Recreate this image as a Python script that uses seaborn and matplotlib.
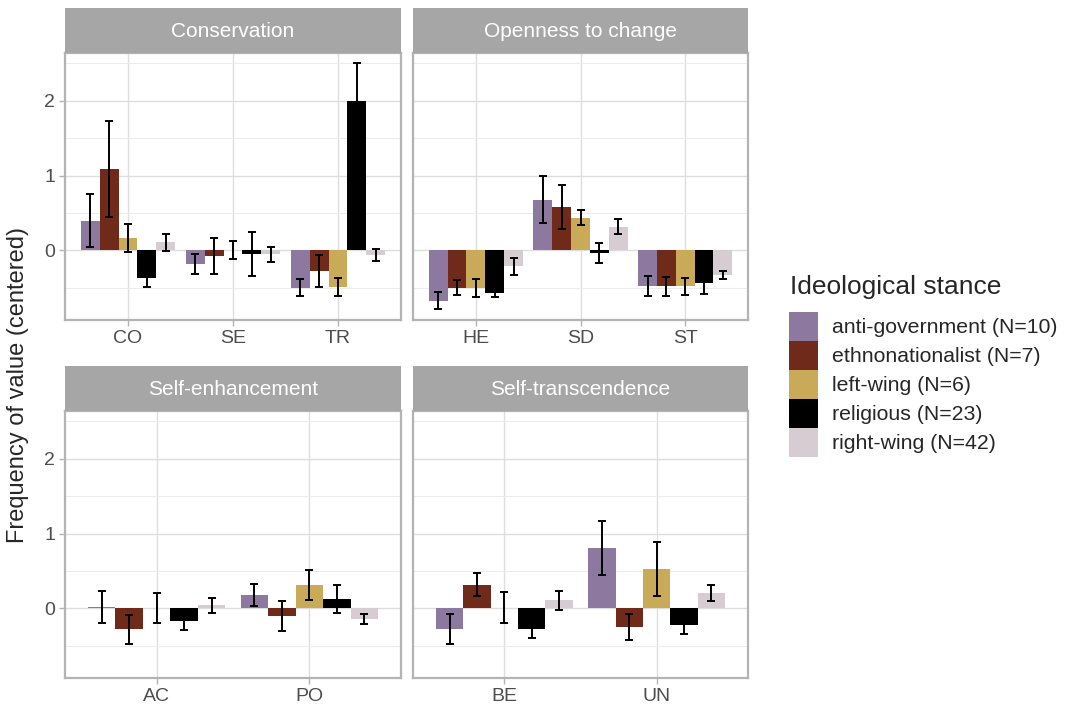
import numpy as np
import pandas as pd
import matplotlib
matplotlib.use("Agg")
import matplotlib.pyplot as plt
from matplotlib.patches import Patch
from matplotlib.ticker import MultipleLocator
import seaborn as sns

# facets and the value codes shown in each one
facets = ["Conservation", "Openness to change", "Self-enhancement", "Self-transcendence"]
facet_values = [["CO", "SE", "TR"], ["HE", "SD", "ST"], ["AC", "PO"], ["BE", "UN"]]
values = ["CO", "SE", "TR", "HE", "SD", "ST", "AC", "PO", "BE", "UN"]

stances = ["anti-government", "ethnonationalist", "left-wing", "religious", "right-wing"]
stance_labels = ["anti-government (N=10)", "ethnonationalist (N=7)", "left-wing (N=6)",
                 "religious (N=23)", "right-wing (N=42)"]
stance_colors = ["#8D799F", "#6F2A19", "#C8AA58", "#000000", "#D6CCD1"]

# centered frequency, order follows `values`
anti_mean = [0.40, -0.18, -0.50, -0.67, 0.68, -0.47, 0.02, 0.18, -0.27, 0.81]
ethno_mean = [1.09, -0.08, -0.28, -0.50, 0.58, -0.48, -0.28, -0.10, 0.32, -0.25]
left_mean = [0.17, 0.005, -0.49, -0.50, 0.44, -0.48, 0.01, 0.31, 0.01, 0.53]
relig_mean = [-0.37, -0.05, 2.00, -0.57, -0.035, -0.43, -0.165, 0.125, -0.28, -0.22]
right_mean = [0.11, -0.05, -0.06, -0.21, 0.32, -0.33, 0.04, -0.14, 0.11, 0.21]

# error bar half widths
anti_err = [0.35, 0.13, 0.115, 0.11, 0.31, 0.135, 0.21, 0.145, 0.20, 0.36]
ethno_err = [0.64, 0.24, 0.215, 0.10, 0.29, 0.125, 0.19, 0.20, 0.155, 0.17]
left_err = [0.19, 0.115, 0.12, 0.12, 0.10, 0.115, 0.20, 0.20, 0.205, 0.365]
relig_err = [0.12, 0.29, 0.50, 0.055, 0.135, 0.15, 0.12, 0.19, 0.12, 0.12]
right_err = [0.115, 0.10, 0.08, 0.115, 0.105, 0.055, 0.10, 0.063, 0.125, 0.11]

means = [anti_mean, ethno_mean, left_mean, relig_mean, right_mean]
errs = [anti_err, ethno_err, left_err, relig_err, right_err]

rows = []
for st, m_list, e_list in zip(stances, means, errs):
    for v, m, e in zip(values, m_list, e_list):
        fac = next(f for f, vs in zip(facets, facet_values) if v in vs)
        rows.append({"facet": fac, "value": v, "stance": st, "mean": m, "err": e})
df = pd.DataFrame(rows)

sns.set_style("white")
plt.rcParams["font.family"] = ["Liberation Sans", "DejaVu Sans"]

W, H = 1071, 710
fig = plt.figure(figsize=(W / 100, H / 100), dpi=100)

# pixel boxes: (left, width, panel top, panel bottom)
boxes = [(65, 336, 53, 320), (413, 335, 53, 320),
         (65, 336, 411, 678), (413, 335, 411, 678)]
strip_h = 45

for i, (fac, cats) in enumerate(zip(facets, facet_values)):
    x0, w, y0, y1 = boxes[i]
    ax = fig.add_axes([x0 / W, 1 - y1 / H, w / W, (y1 - y0) / H])
    sub = df[df["facet"] == fac]
    sns.barplot(data=sub, x="value", y="mean", hue="stance", order=cats,
                hue_order=stances, palette=stance_colors, saturation=1, width=0.9,
                errorbar=None, linewidth=0, legend=False, ax=ax, zorder=2)
    for cont, st in zip(ax.containers, stances):
        for bar, cat in zip(cont, cats):
            r = sub[(sub["stance"] == st) & (sub["value"] == cat)].iloc[0]
            xc = bar.get_x() + bar.get_width() / 2
            ax.errorbar(xc, r["mean"], yerr=r["err"], fmt="none", ecolor="black",
                        elinewidth=1.4, capsize=2.6, capthick=1.4, zorder=3)

    ax.set_xlim(-0.6, len(cats) - 0.4)
    ax.set_ylim(-0.93, 2.64)
    ax.yaxis.set_major_locator(MultipleLocator(1))
    ax.yaxis.set_minor_locator(MultipleLocator(0.5))
    ax.set_axisbelow(True)
    ax.grid(True, which="major", color="#DEDEDE", linewidth=1.0)
    ax.grid(True, which="minor", axis="y", color="#EBEBEB", linewidth=0.7)
    for sp in ax.spines.values():
        sp.set_color("#B3B3B3")
        sp.set_linewidth(1.6)
    ax.set_xlabel("")
    ax.set_ylabel("")
    ax.tick_params(which="major", labelsize=14, colors="#B3B3B3", labelcolor="#4D4D4D",
                   length=4, width=1, bottom=True, left=True, pad=3)
    ax.tick_params(which="minor", length=0)
    if i % 2 == 1:
        ax.tick_params(axis="y", left=False, labelleft=False)

    sax = fig.add_axes([x0 / W, 1 - y0 / H, w / W, strip_h / H])
    sax.set_facecolor("#A6A6A6")
    sax.set_xticks([])
    sax.set_yticks([])
    for sp in sax.spines.values():
        sp.set_visible(False)
    sax.text(0.5, 0.47, fac, color="white", fontsize=15, ha="center", va="center",
             transform=sax.transAxes)

fig.text(18 / W, 1 - 385 / H, "Frequency of value (centered)", rotation=90,
         ha="center", va="center", fontsize=17)

fig.text(790 / W, 1 - 294 / H, "Ideological stance", fontsize=19, ha="left",
         va="baseline")
handles = [Patch(facecolor=c, linewidth=0, label=l) for c, l in zip(stance_colors, stance_labels)]
fig.legend(handles=handles, loc="upper left", bbox_to_anchor=(789 / W, 1 - 312 / H),
           frameon=False, fontsize=15.3, handlelength=1.37, handleheight=1.72,
           labelspacing=0, handletextpad=0.65, borderpad=0, borderaxespad=0)

fig.savefig("out.png", dpi=100)
